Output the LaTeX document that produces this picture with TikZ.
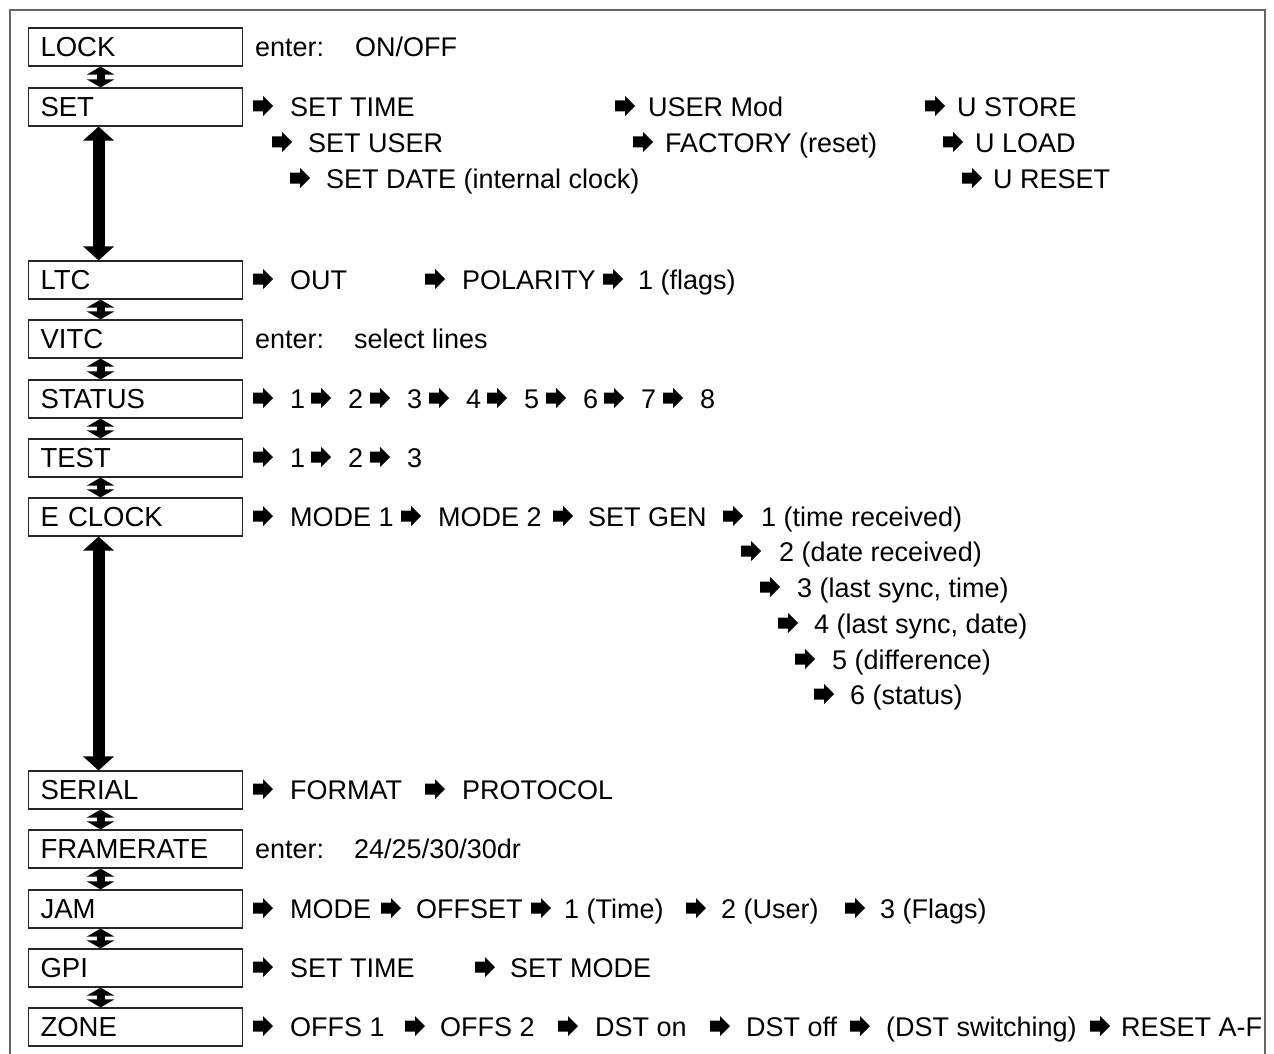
\documentclass[tikz,border=0pt]{standalone}
\usepackage{fontspec}
\setmainfont{Liberation Sans}
\usetikzlibrary{arrows.meta}
\begin{document}
\begin{tikzpicture}[x=1pt,y=-1pt,
  box/.style={draw=black!85,line width=1.1pt,anchor=west,text width=190pt,align=left,
    inner xsep=12pt,inner ysep=0pt,minimum height=38pt,font=\fontsize{27.5}{30}\selectfont},
  t/.style={anchor=base west,inner sep=0pt,font=\fontsize{27}{30}\selectfont},
  sdbl/.style={line width=8pt,{Triangle[width=27pt,length=8pt]}-{Triangle[width=27pt,length=8pt]}},
  ldbl/.style={line width=12pt,{Triangle[width=30pt,length=14pt]}-{Triangle[width=30pt,length=14pt]}},
  rarr/.pic={\fill[line join=round] (0,-5.5)--(10,-5.5)--(10,-10)--(20,0)--(10,10)--(10,5.5)--(0,5.5)--cycle;}]
\useasboundingbox (0,0) rectangle (1274,1054);
\fill[white] (0,0) rectangle (1274,1054);
% frame (open at bottom)
\draw[black!60,line width=1.5pt] (10,1054)--(10,10)--(1265,10)--(1265,1054);
% boxes
\node[box] (lock) at (28,47) {LOCK};
\node[box] (set) at (28,107) {SET};
\node[box] (ltc) at (28,280) {LTC};
\node[box] (vitc) at (28,339) {VITC};
\node[box] (status) at (28,399) {STATUS};
\node[box] (test) at (28,458) {TEST};
\node[box] (eclock) at (28,517) {E CLOCK};
\node[box] (serial) at (28,790) {SERIAL};
\node[box] (frame) at (28,849) {FRAMERATE};
\node[box] (jam) at (28,909) {JAM};
\node[box] (gpi) at (28,968) {GPI};
\node[box] (zone) at (28,1027) {ZONE};
% vertical double arrows
\draw[sdbl] ([xshift=-35pt]lock.south) -- ([xshift=-35pt]set.north);
\draw[ldbl] ([xshift=-37pt]set.south) -- ([xshift=-37pt]ltc.north);
\draw[sdbl] ([xshift=-35pt]ltc.south) -- ([xshift=-35pt]vitc.north);
\draw[sdbl] ([xshift=-35pt]vitc.south) -- ([xshift=-35pt]status.north);
\draw[sdbl] ([xshift=-35pt]status.south) -- ([xshift=-35pt]test.north);
\draw[sdbl] ([xshift=-35pt]test.south) -- ([xshift=-35pt]eclock.north);
\draw[ldbl] ([xshift=-37pt]eclock.south) -- ([xshift=-37pt]serial.north);
\draw[sdbl] ([xshift=-35pt]serial.south) -- ([xshift=-35pt]frame.north);
\draw[sdbl] ([xshift=-35pt]frame.south) -- ([xshift=-35pt]jam.north);
\draw[sdbl] ([xshift=-35pt]jam.south) -- ([xshift=-35pt]gpi.north);
\draw[sdbl] ([xshift=-35pt]gpi.south) -- ([xshift=-35pt]zone.north);
% LOCK row
\node[t] (lk1) at (255,56.5) {enter:};
\node[t] (lk2) at (355,56.5) {ON/OFF};
% SET rows
\pic at (253,106) {rarr}; \node[t] (st1) at (290,116.5) {SET TIME};
\pic at (615,106) {rarr}; \node[t] (st2) at (648,116.5) {USER Mod};
\pic at (925,106) {rarr}; \node[t] (st3) at (957,116.5) {U STORE};
\pic at (272,142) {rarr}; \node[t] (st4) at (308,152.5) {SET USER};
\pic at (633,142) {rarr}; \node[t] (st5) at (665,152.5) {FACTORY (reset)};
\pic at (943,142) {rarr}; \node[t] (st6) at (975,152.5) {U LOAD};
\pic at (290,178) {rarr}; \node[t] (st7) at (326,188.5) {SET DATE (internal clock)};
\pic at (962,178) {rarr}; \node[t] (st8) at (993,188.5) {U RESET};
% LTC
\pic at (253,279) {rarr}; \node[t] (lt1) at (290,289.5) {OUT};
\pic at (425,279) {rarr}; \node[t] (lt2) at (462,289.5) {POLARITY};
\pic at (603,279) {rarr}; \node[t] (lt3) at (638,289.5) {1 (flags)};
% VITC
\node[t] (vi1) at (255,348.5) {enter:};
\node[t] (vi2) at (354,348.5) {select lines};
% STATUS
\foreach \i/\xx in {1/290,2/348,3/407,4/466,5/524,6/583,7/641,8/700}{
  \pic at (\xx-37,398) {rarr};
  \node[t] (stat\i) at (\xx,408.5) {\i};
}
% TEST
\foreach \i/\xx in {1/290,2/348,3/407}{
  \pic at (\xx-37,457) {rarr};
  \node[t] (tst\i) at (\xx,467.5) {\i};
}
% E CLOCK
\pic at (253,516) {rarr}; \node[t] (ec1) at (290,526.5) {MODE 1};
\pic at (401,516) {rarr}; \node[t] (ec2) at (438,526.5) {MODE 2};
\pic at (553,516) {rarr}; \node[t] (ec3) at (588,526.5) {SET GEN};
\pic at (723,516) {rarr}; \node[t] (ec4) at (761,526.5) {1 (time received)};
\pic at (741,551) {rarr}; \node[t] (ec5) at (779,561.5) {2 (date received)};
\pic at (760,587) {rarr}; \node[t] (ec6) at (797,597.5) {3 (last sync, time)};
\pic at (778,623) {rarr}; \node[t] (ec7) at (814,633.5) {4 (last sync, date)};
\pic at (795,659) {rarr}; \node[t] (ec8) at (832,669.5) {5 (difference)};
\pic at (814,694) {rarr}; \node[t] (ec9) at (850,704.5) {6 (status)};
% SERIAL
\pic at (253,789) {rarr}; \node[t] (se1) at (290,799.5) {FORMAT};
\pic at (425,789) {rarr}; \node[t] (se2) at (462,799.5) {PROTOCOL};
% FRAMERATE
\node[t] (fr1) at (255,858.5) {enter:};
\node[t] (fr2) at (354,858.5) {24/25/30/30dr};
% JAM
\pic at (253,908) {rarr}; \node[t] (jm1) at (290,918.5) {MODE};
\pic at (381,908) {rarr}; \node[t] (jm2) at (416,918.5) {OFFSET};
\pic at (531,908) {rarr}; \node[t] (jm3) at (564,918.5) {1 (Time)};
\pic at (686,908) {rarr}; \node[t] (jm4) at (721,918.5) {2 (User)};
\pic at (845,908) {rarr}; \node[t] (jm5) at (880,918.5) {3 (Flags)};
% GPI
\pic at (253,967) {rarr}; \node[t] (gp1) at (290,977.5) {SET TIME};
\pic at (475,967) {rarr}; \node[t] (gp2) at (510,977.5) {SET MODE};
% ZONE
\pic at (253,1026) {rarr}; \node[t] (zn1) at (290,1036.5) {OFFS 1};
\pic at (405,1026) {rarr}; \node[t] (zn2) at (440,1036.5) {OFFS 2};
\pic at (558,1026) {rarr}; \node[t] (zn3) at (595,1036.5) {DST on};
\pic at (710,1026) {rarr}; \node[t] (zn4) at (746,1036.5) {DST off};
\pic at (850,1026) {rarr}; \node[t] (zn5) at (886,1036.5) {(DST switching)};
\pic at (1090,1026) {rarr}; \node[t] (zn6) at (1121,1036.5) {RESET A-F};
\end{tikzpicture}
\end{document}
